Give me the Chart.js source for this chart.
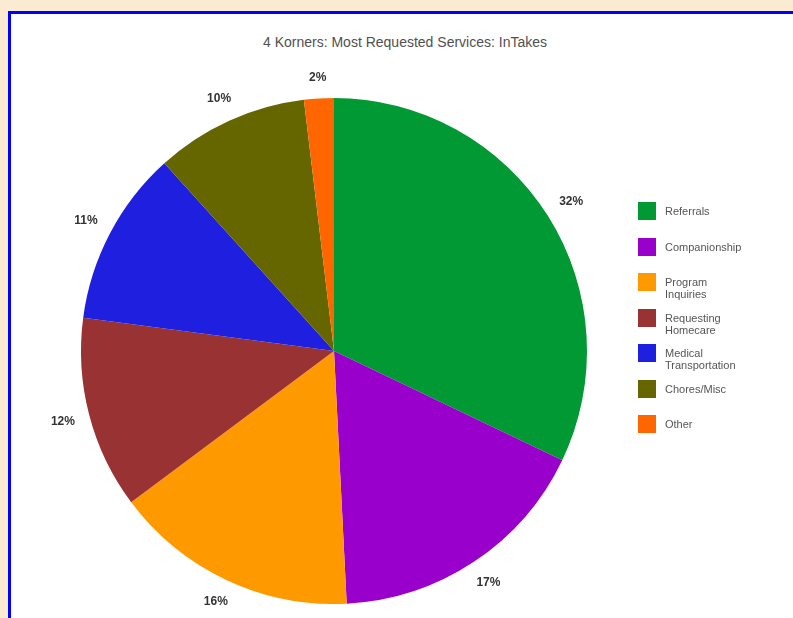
<!DOCTYPE html>
<html>
<head>
<meta charset="utf-8">
<script src="https://cdn.jsdelivr.net/npm/chart.js@4"></script>
<style>
  html, body { margin: 0; padding: 0; }
  body {
    width: 793px; height: 618px; overflow: hidden; position: relative;
    background: #fbebd3;
    font-family: "Liberation Sans", Arial, sans-serif;
  }
  #frame {
    position: absolute; left: 8px; top: 11px; width: 800px; height: 620px;
    background: #fff; border: 3px solid #0000ff; box-sizing: border-box;
  }
  #title {
    position: absolute; left: 0; width: 810px; top: 34px;
    text-align: center; font-size: 14px; color: #505050;
  }
  #chart { position: absolute; left: 0; top: 0; }
  #legend {
    position: absolute; left: 638px; top: 202px; width: 150px;
    list-style: none; margin: 0; padding: 0;
    font-size: 11px; line-height: 12px; color: #555;
  }
  #legend li { position: relative; height: 35.5px; padding-left: 27px; }
  #legend li span.box {
    position: absolute; left: 0; top: 0; width: 18px; height: 18px;
  }
  #legend li span.txt { display: block; width: 84px; padding-top: 3px; }
</style>
</head>
<body>
<div id="frame"></div>
<div id="title">4 Korners: Most Requested Services: InTakes</div>
<canvas id="chart" width="793" height="618"></canvas>
<ul id="legend"></ul>
<script>
// Slices, clockwise from 12 o'clock (percent of intakes)
const categories = ["Referrals", "Companionship", "Program Inquiries", "Requesting Homecare",
  "Medical Transportation", "Chores/Misc", "Other"]
const shares = [32.1, 17.1, 15.6, 12.3, 11.2, 9.8, 1.9]
const sliceColors = ["#009933", "#9900cc", "#ff9900", "#993333", "#1f1fe0", "#666600", "#ff6600"]

// Percent labels drawn just outside each slice
const outsideLabels = {
  id: "outsideLabels",
  afterDatasetsDraw(chart) {
    const ctx = chart.ctx
    const meta = chart.getDatasetMeta(0)
    const data = chart.data.datasets[0].data
    const total = data.reduce((a, b) => a + b, 0)
    ctx.save()
    ctx.font = "bold 12px 'Liberation Sans', Arial, sans-serif"
    ctx.fillStyle = "#333"
    ctx.textAlign = "center"
    ctx.textBaseline = "middle"
    meta.data.forEach((arc, i) => {
      const p = arc.getProps(["x", "y", "startAngle", "endAngle", "outerRadius"], true)
      const mid = (p.startAngle + p.endAngle) / 2
      const text = Math.round(data[i] / total * 100) + "%"
      const hw = ctx.measureText(text).width / 2
      const d = p.outerRadius + 14 + hw * Math.abs(Math.cos(mid)) + 6 * Math.abs(Math.sin(mid))
      ctx.fillText(text, p.x + Math.cos(mid) * d, p.y + Math.sin(mid) * d)
    })
    ctx.restore()
  }
}

const chart = new Chart(document.getElementById("chart"), {
  type: "pie",
  data: {
    labels: categories,
    datasets: [{
      data: shares,
      backgroundColor: sliceColors,
      borderWidth: 0
    }]
  },
  options: {
    responsive: false,
    animation: false,
    layout: { padding: { left: 81, top: 98, right: 206, bottom: 14 } },
    plugins: {
      legend: { display: false },
      tooltip: { enabled: false }
    }
  },
  plugins: [outsideLabels]
})

// HTML legend so the long names can wrap like the original
const legendEl = document.getElementById("legend")
categories.forEach((name, i) => {
  const li = document.createElement("li")
  li.innerHTML = '<span class="box" style="background:' + sliceColors[i] + '"></span><span class="txt">' + name + '</span>'
  legendEl.appendChild(li)
})
</script>
</body>
</html>
